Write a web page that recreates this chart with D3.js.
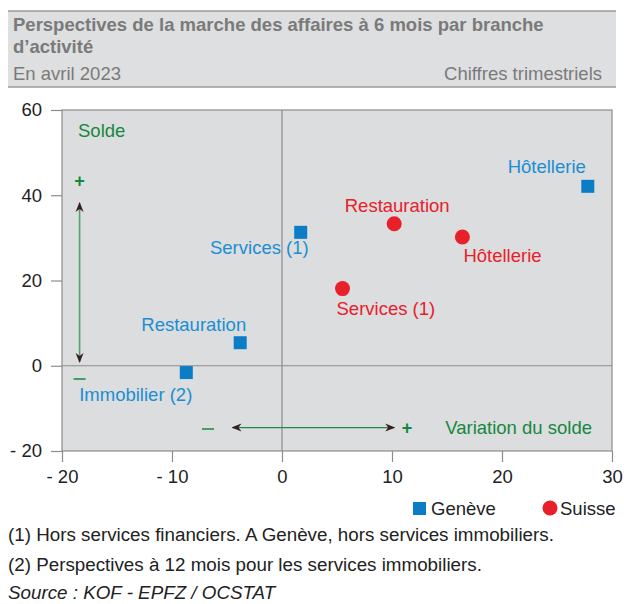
<!DOCTYPE html>
<html>
<head>
<meta charset="utf-8">
<script src="https://cdn.jsdelivr.net/npm/d3@7"></script>
<style>
  body { margin: 0; background: #fff; }
  svg { display: block; font-family: "Liberation Sans", Arial, sans-serif; }
</style>
</head>
<body>
<div id="chart"></div>
<script>
// Genève (carrés bleus) et Suisse (points rouges)
const geneveNames = ["Hôtellerie", "Services (1)", "Restauration", "Immobilier (2)"];
const geneveX = [27.8, 1.7, -3.8, -8.7];
const geneveY = [42.1, 31.3, 5.4, -1.6];

const suisseNames = ["Restauration", "Hôtellerie", "Services (1)"];
const suisseX = [10.2, 16.4, 5.5];
const suisseY = [33.3, 30.2, 18.1];

const xTicks = [-20, -10, 0, 10, 20, 30];
const yTicks = [-20, 0, 20, 40, 60];

const width = 624, height = 604;
const margins = { top: 110, right: 12, bot: 153, left: 62 };
const blue = "#0a7dc6", blueText = "#1b8ed2", red = "#e8202a", green = "#14883e";
const grey = "#8c8c8c";
const fs = 18.5;

let svg = d3.select("#chart").append("svg")
    .attr("width", width)
    .attr("height", height);

// header band
svg.append("rect").attr("x", 8).attr("y", 11).attr("width", 608).attr("height", 76).attr("fill", "#dedfe0");
svg.append("line").attr("x1", 8).attr("x2", 616).attr("y1", 11).attr("y2", 11).attr("stroke", "#9a9a9a").attr("stroke-width", 1.5);
svg.append("line").attr("x1", 8).attr("x2", 616).attr("y1", 87).attr("y2", 87).attr("stroke", "#9a9a9a").attr("stroke-width", 1.5);
svg.append("text").attr("x", 13).attr("y", 31).attr("font-size", fs).attr("font-weight", "bold").attr("fill", "#7a7a7a")
    .text("Perspectives de la marche des affaires à 6 mois par branche");
svg.append("text").attr("x", 13).attr("y", 53).attr("font-size", fs).attr("font-weight", "bold").attr("fill", "#7a7a7a")
    .text("d’activité");
svg.append("text").attr("x", 13).attr("y", 80).attr("font-size", fs).attr("fill", "#7a7a7a").text("En avril 2023");
svg.append("text").attr("x", 602).attr("y", 80).attr("font-size", fs).attr("fill", "#7a7a7a")
    .attr("text-anchor", "end").text("Chiffres trimestriels");

let x = d3.scaleLinear().domain([-20, 30]).range([margins.left, width - margins.right]);
let y = d3.scaleLinear().domain([-20, 60]).range([height - margins.bot, margins.top]);

// plot background
svg.append("rect")
    .attr("x", x(-20)).attr("y", y(60))
    .attr("width", x(30) - x(-20)).attr("height", y(-20) - y(60))
    .attr("fill", "#dcdddf").attr("stroke", grey).attr("stroke-width", 1.2);

// zero lines
svg.append("line").attr("x1", x(0)).attr("x2", x(0)).attr("y1", y(60)).attr("y2", y(-20)).attr("stroke", grey).attr("stroke-width", 1.2);
svg.append("line").attr("x1", x(-20)).attr("x2", x(30)).attr("y1", y(0)).attr("y2", y(0)).attr("stroke", grey).attr("stroke-width", 1.2);

let fmt = d => d < 0 ? "- " + Math.abs(d) : String(d);

let xAxis = svg.append("g")
    .attr("transform", "translate(0," + y(-20) + ")")
    .call(d3.axisBottom(x).tickValues(xTicks).tickFormat(fmt).tickSize(11).tickPadding(8));
let yAxis = svg.append("g")
    .attr("transform", "translate(" + x(-20) + ",0)")
    .call(d3.axisLeft(y).tickValues(yTicks).tickFormat(fmt).tickSize(11).tickPadding(9));
[xAxis, yAxis].forEach(function (a) {
    a.select(".domain").remove();
    a.selectAll("line").attr("stroke", grey).attr("stroke-width", 1.2);
    a.selectAll("text").attr("font-size", fs).attr("fill", "#222").attr("font-family", "Liberation Sans, Arial, sans-serif");
});

// arrows
let defs = svg.append("defs");
defs.append("marker")
    .attr("id", "head")
    .attr("viewBox", "0 0 10 10")
    .attr("refX", 9).attr("refY", 5)
    .attr("markerWidth", 10).attr("markerHeight", 10)
    .attr("markerUnits", "userSpaceOnUse")
    .attr("orient", "auto-start-reverse")
    .append("path")
    .attr("d", "M0,1 L10,5 L0,9 L3,5 Z")
    .attr("fill", "#3b1c22");

svg.append("line")
    .attr("x1", x(-18.4)).attr("x2", x(-18.4))
    .attr("y1", y(38.2)).attr("y2", y(0.9))
    .attr("stroke", "#4ea56c").attr("stroke-width", 1.6)
    .attr("marker-start", "url(#head)").attr("marker-end", "url(#head)");
svg.append("line")
    .attr("x1", x(-4.5)).attr("x2", x(10.2))
    .attr("y1", y(-14.5)).attr("y2", y(-14.5))
    .attr("stroke", "#1f8a45").attr("stroke-width", 1.3)
    .attr("marker-start", "url(#head)").attr("marker-end", "url(#head)");

let ann = svg.append("g").attr("fill", green).attr("font-size", fs);
ann.append("text").attr("x", 78).attr("y", 137).text("Solde");
ann.append("text").attr("x", x(-18.4)).attr("y", 187).attr("text-anchor", "middle").attr("font-size", 18).attr("font-weight", "bold").text("+");
ann.append("text").attr("x", 407).attr("y", 434).attr("text-anchor", "middle").attr("font-size", 18).attr("font-weight", "bold").text("+");
// minus signs drawn as short dashes
svg.append("line").attr("x1", x(-18.4) - 6).attr("x2", x(-18.4) + 6).attr("y1", 379).attr("y2", 379)
    .attr("stroke", green).attr("stroke-width", 1.5);
svg.append("line").attr("x1", 202).attr("x2", 214).attr("y1", 429).attr("y2", 429)
    .attr("stroke", green).attr("stroke-width", 1.5);
ann.append("text").attr("x", 592).attr("y", 434).attr("text-anchor", "end").text("Variation du solde");

// Genève points
let geneve = geneveNames.map((n, i) => ({ name: n, x: geneveX[i], y: geneveY[i] }));
let suisse = suisseNames.map((n, i) => ({ name: n, x: suisseX[i], y: suisseY[i] }));
const sq = 13;
svg.append("g").selectAll("rect").data(geneve).join("rect")
    .attr("x", d => x(d.x) - sq / 2).attr("y", d => y(d.y) - sq / 2)
    .attr("width", sq).attr("height", sq).attr("fill", blue);
svg.append("g").selectAll("circle").data(suisse).join("circle")
    .attr("cx", d => x(d.x)).attr("cy", d => y(d.y)).attr("r", 7.5).attr("fill", red);

// labels: offsets in pixels relative to each point
const geneveLabelDx = [-2, 8, 6, 6];
const geneveLabelDy = [-13, 22, -12, 28];
const geneveAnchor = ["end", "end", "end", "end"];
const suisseLabelDx = [3, 1, -6];
const suisseLabelDy = [-12, 25, 26];
const suisseAnchor = ["middle", "start", "start"];

svg.append("g").selectAll("text").data(geneve).join("text")
    .attr("x", (d, i) => x(d.x) + geneveLabelDx[i])
    .attr("y", (d, i) => y(d.y) + geneveLabelDy[i])
    .attr("text-anchor", (d, i) => geneveAnchor[i])
    .attr("font-size", fs).attr("fill", blueText).text(d => d.name);
svg.append("g").selectAll("text").data(suisse).join("text")
    .attr("x", (d, i) => x(d.x) + suisseLabelDx[i])
    .attr("y", (d, i) => y(d.y) + suisseLabelDy[i])
    .attr("text-anchor", (d, i) => suisseAnchor[i])
    .attr("font-size", fs).attr("fill", red).text(d => d.name);

// legend
svg.append("rect").attr("x", 413).attr("y", 502).attr("width", 13).attr("height", 13).attr("fill", blue);
svg.append("text").attr("x", 431).attr("y", 515).attr("font-size", fs).attr("fill", "#222").text("Genève");
svg.append("circle").attr("cx", 550).attr("cy", 508).attr("r", 7.5).attr("fill", red);
svg.append("text").attr("x", 560).attr("y", 515).attr("font-size", fs).attr("fill", "#222").text("Suisse");

// notes
let notes = svg.append("g").attr("font-size", 18.8).attr("fill", "#222");
notes.append("text").attr("x", 8).attr("y", 541).text("(1) Hors services financiers. A Genève, hors services immobiliers.");
notes.append("text").attr("x", 8).attr("y", 571).text("(2) Perspectives à 12 mois pour les services immobiliers.");
notes.append("text").attr("x", 8).attr("y", 599).attr("font-style", "italic").text("Source : KOF - EPFZ / OCSTAT");
</script>
</body>
</html>
